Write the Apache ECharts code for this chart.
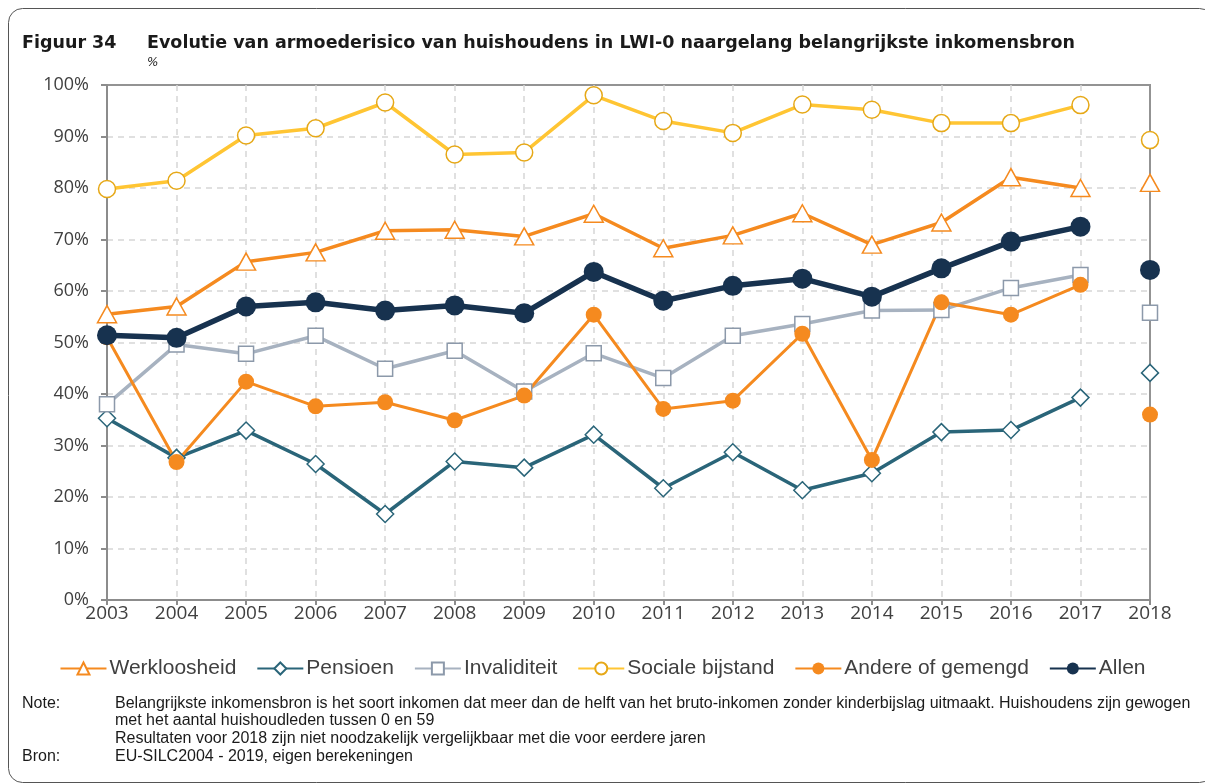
<!DOCTYPE html>
<html>
<head>
<meta charset="utf-8">
<script src="https://cdn.jsdelivr.net/npm/echarts@6/dist/echarts.min.js"></script>
<style>
html, body { margin: 0; padding: 0; background: #fff; }
#chart { width: 1205px; height: 784px; }
</style>
</head>
<body>
<div id="chart"></div>
<script>
// jaren
var years = ['2003', '2004', '2005', '2006', '2007', '2008', '2009', '2010',
  '2011', '2012', '2013', '2014', '2015', '2016', '2017', '2018']

// armoederisico in %, 2003-2018 (2018 apart getekend)
var werkloosheid = [55.5, 57.0, 65.7, 67.5, 71.7, 71.9, 70.6, 75.0, 68.3, 70.8, 75.1, 69.0, 73.3, 82.1, 80.0, 81.0]
var pensioen = [35.3, 27.6, 32.9, 26.4, 16.7, 26.9, 25.7, 32.1, 21.7, 28.7, 21.3, 24.6, 32.6, 33.0, 39.3, 44.1]
var invaliditeit = [38.0, 49.6, 47.8, 51.3, 44.9, 48.4, 40.5, 47.9, 43.1, 51.3, 53.6, 56.2, 56.3, 60.6, 63.1, 55.8]
var socialeBijstand = [79.8, 81.4, 90.2, 91.6, 96.6, 86.5, 86.9, 98.0, 93.0, 90.7, 96.2, 95.2, 92.6, 92.6, 96.1, 89.3]
var andere = [51.0, 26.8, 42.4, 37.6, 38.4, 34.9, 39.7, 55.4, 37.1, 38.7, 51.7, 27.2, 57.8, 55.4, 61.2, 36.0]
var allen = [51.4, 50.9, 57.0, 57.8, 56.2, 57.2, 55.7, 63.7, 58.1, 61.0, 62.4, 58.9, 64.4, 69.6, 72.5, 64.1]

var yTicks = { min: 0, max: 100, interval: 10 }

var defs = [
  { name: 'Werkloosheid', data: werkloosheid, color: '#F58A1F', fill: '#fff', symbol: 'triangle', size: [19, 17], width: 3.5 },
  { name: 'Pensioen', data: pensioen, color: '#2A6579', fill: '#fff', symbol: 'diamond', size: [17, 17], width: 3.5 },
  { name: 'Invaliditeit', data: invaliditeit, color: '#A7B2C0', fill: '#fff', symbol: 'rect', size: [15, 15], width: 3.5, border: '#8C99AA' },
  { name: 'Sociale bijstand', data: socialeBijstand, color: '#FFC533', fill: '#fff', symbol: 'circle', size: 17, width: 3.5, border: '#E6A817' },
  { name: 'Andere of gemengd', data: andere, color: '#F58A1F', fill: '#F58A1F', symbol: 'circle', size: 16, width: 3 },
  { name: 'Allen', data: allen, color: '#17324F', fill: '#17324F', symbol: 'circle', size: 20, width: 5.5 }
]

var series = []
defs.forEach(function (d) {
  var main = d.data.slice(0, 15).concat(['-'])
  var last = years.slice(0, 15).map(function () { return '-' }).concat([d.data[15]])
  var base = {
    name: d.name,
    type: 'line',
    symbol: d.symbol,
    symbolSize: d.size,
    showAllSymbol: true,
    lineStyle: { color: d.color, width: d.width },
    itemStyle: { color: d.fill, borderColor: d.border || d.color, borderWidth: d.fill === '#fff' ? 1.5 : 0 },
    emphasis: { disabled: true },
    animation: false
  }
  series.push(Object.assign({}, base, { data: main }))
  series.push(Object.assign({}, base, { data: last }))
})

var gray = '#404040'
var noteFont = '16px "Liberation Sans"'
var option = {
  graphic: [
    { type: 'rect', shape: { x: 8.5, y: 8.5, width: 1205, height: 774, r: 14 }, style: { fill: 'none', stroke: '#555', lineWidth: 1 } },
    { type: 'text', left: 22, top: 34, style: { text: 'Figuur 34', font: 'bold 17.5px "DejaVu Sans"', fill: '#1a1a1a' } },
    { type: 'text', left: 147, top: 34, style: { text: 'Evolutie van armoederisico van huishoudens in LWI-0 naargelang belangrijkste inkomensbron', font: 'bold 17.5px "DejaVu Sans"', fill: '#1a1a1a' } },
    { type: 'text', left: 147, top: 57, style: { text: '%', font: 'italic 12px "DejaVu Sans"', fill: '#1a1a1a' } },
    { type: 'text', left: 22, top: 696, style: { text: 'Note:', font: noteFont, fill: '#1a1a1a' } },
    { type: 'text', left: 115, top: 696, style: { text: 'Belangrijkste inkomensbron is het soort inkomen dat meer dan de helft van het bruto-inkomen zonder kinderbijslag uitmaakt. Huishoudens zijn gewogen', font: noteFont, fill: '#1a1a1a' } },
    { type: 'text', left: 115, top: 713, style: { text: 'met het aantal huishoudleden tussen 0 en 59', font: noteFont, fill: '#1a1a1a' } },
    { type: 'text', left: 115, top: 731, style: { text: 'Resultaten voor 2018 zijn niet noodzakelijk vergelijkbaar met die voor eerdere jaren', font: noteFont, fill: '#1a1a1a' } },
    { type: 'text', left: 22, top: 749, style: { text: 'Bron:', font: noteFont, fill: '#1a1a1a' } },
    { type: 'text', left: 115, top: 749, style: { text: 'EU-SILC2004 - 2019, eigen berekeningen', font: noteFont, fill: '#1a1a1a' } }
  ],
  legend: {
    top: 653,
    left: 'center',
    itemWidth: 46,
    itemHeight: 15,
    itemGap: 20,
    data: defs.map(function (d) { return d.name }),
    textStyle: { fontFamily: '"Liberation Sans"', fontSize: 21, color: gray, padding: [0, 0, 0, -2] }
  },
  grid: {
    left: 107, right: 55, top: 85, bottom: 184,
    show: true, borderColor: '#939393', borderWidth: 2, backgroundColor: 'transparent'
  },
  xAxis: {
    type: 'category',
    boundaryGap: false,
    data: years,
    axisLine: { lineStyle: { color: '#8C8C8C', width: 2 } },
    axisTick: { show: true, length: 5, lineStyle: { color: '#8C8C8C', width: 2 } },
    axisLabel: { color: gray, fontFamily: '"Open Sans"', fontSize: 19, margin: 4 },
    splitLine: { show: true, showMinLine: false, showMaxLine: false, lineStyle: { color: '#D6D6D6', width: 1.5, type: [6, 5] } }
  },
  yAxis: {
    type: 'value',
    min: yTicks.min,
    max: yTicks.max,
    interval: yTicks.interval,
    axisLine: { show: true, lineStyle: { color: '#8C8C8C', width: 2 } },
    axisTick: { show: true, length: 6, lineStyle: { color: '#8C8C8C', width: 2 } },
    axisLabel: { color: gray, fontFamily: '"Open Sans"', fontSize: 18, margin: 18, formatter: '{value}%' },
    splitLine: { showMinLine: false, showMaxLine: false, lineStyle: { color: '#D6D6D6', width: 1.5, type: [6, 5] } }
  },
  series: series
}

var myChart = echarts.init(document.getElementById('chart'))
myChart.setOption(option)
</script>
</body>
</html>
